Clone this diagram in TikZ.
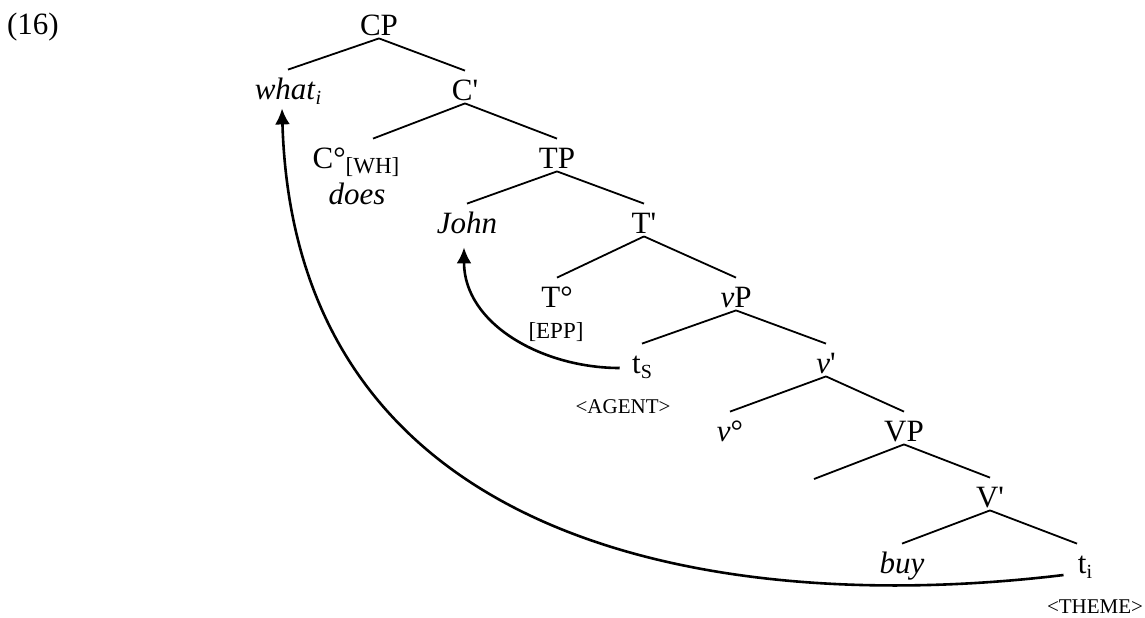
\documentclass[tikz,border=0pt]{standalone}
\usepackage{fontspec}
\setmainfont{Liberation Serif}
\usetikzlibrary{arrows.meta}
\newcommand{\mainsz}{\fontsize{15.5}{18}\selectfont}
\newcommand{\featsz}{\fontsize{11.5}{13}\selectfont}
\newcommand{\rolesz}{\fontsize{10.5}{12}\selectfont}
\newcommand{\subsz}{\fontsize{10}{12}\selectfont}
\newcommand{\lowsub}[1]{\raisebox{-2.5pt}{\subsz #1}}

\begin{document}
\begin{tikzpicture}[x=0.5pt,y=0.5pt,
    cat/.style={anchor=base,inner sep=0pt,text height=14.5pt,text depth=1.5pt,font=\mainsz},
    feat/.style={anchor=base,inner sep=0pt,font=\featsz},
    role/.style={anchor=base,inner sep=0pt,font=\rolesz},
    branch/.style={line width=0.9pt},
    move/.style={->,>={Latex[length=8pt,width=7.5pt]},line width=1.3pt}]
    \useasboundingbox (0,0) rectangle (1145,-617);

    \node[cat] (ex) at (33,-34) {(16)};
    \node[cat] (CP) at (379,-35) {CP};
    \node[cat] (what) at (288,-99) {\textit{what}\lowsub{\textit{i}}};
    \node[cat] (Cbar) at (465,-100) {C\textquotesingle};
    \node[cat] (Cwh) at (356,-168) {C°\raisebox{-2.5pt}{\featsz[WH]}};
    \node[cat] (does) at (357,-204) {\textit{does}};
    \node[cat] (TP) at (557,-168) {TP};
    \node[cat] (John) at (467,-233) {\textit{John}};
    \node[cat] (Tbar) at (644,-233) {T\textquotesingle};
    \node[cat] (T0) at (557,-307) {T°};
    \node[feat] (epp) at (556,-338) {[EPP]};
    \node[cat] (vP) at (736,-307) {\textit{v}P};
    \node[cat] (tS) at (642,-373) {t\lowsub{S}};
    \node[role] (agent) at (623,-413) {<AGENT>};
    \node[cat] (vbar) at (826,-373) {\textit{v}\textquotesingle};
    \node[cat] (v0) at (730,-441) {\textit{v}°};
    \node[cat] (VP) at (904,-441) {VP};
    \coordinate (spec) at (814,-479);
    \node[cat] (Vbar) at (990,-507) {V\textquotesingle};
    \node[cat] (buy) at (902,-573) {\textit{buy}};
    \node[cat] (ti) at (1085,-573) {t\lowsub{i}};
    \node[role] (theme) at (1095,-613) {<THEME>};

    % branches
    \draw[branch] (CP.south) -- (what.north);
    \draw[branch] (CP.south) -- (Cbar.north);
    \draw[branch] (Cbar.south) -- ([xshift=8.5pt]Cwh.north);
    \draw[branch] (Cbar.south) -- (TP.north);
    \draw[branch] (TP.south) -- (John.north);
    \draw[branch] (TP.south) -- (Tbar.north);
    \draw[branch] (Tbar.south) -- (T0.north);
    \draw[branch] (Tbar.south) -- (vP.north);
    \draw[branch] (vP.south) -- (tS.north);
    \draw[branch] (vP.south) -- (vbar.north);
    \draw[branch] (vbar.south) -- (v0.north);
    \draw[branch] (vbar.south) -- (VP.north);
    \draw[branch] (VP.south) -- (spec);
    \draw[branch] (VP.south) -- (Vbar.north);
    \draw[branch] (Vbar.south) -- (buy.north);
    \draw[branch] (Vbar.south) -- ([xshift=-4pt]ti.north);

    % movement arrows
    \draw[move] ([shift={(-7pt,-1pt)}]ti.base west)
      .. controls +(-330,-40) and +(13,-447) .. ([shift={(-3pt,-3pt)}]what.south);
    \draw[move] ([shift={(-6pt,2.5pt)}]tS.base west)
      to[out=180,in=-90] ([shift={(-1.5pt,-5.5pt)}]John.south);
\end{tikzpicture}
\end{document}
